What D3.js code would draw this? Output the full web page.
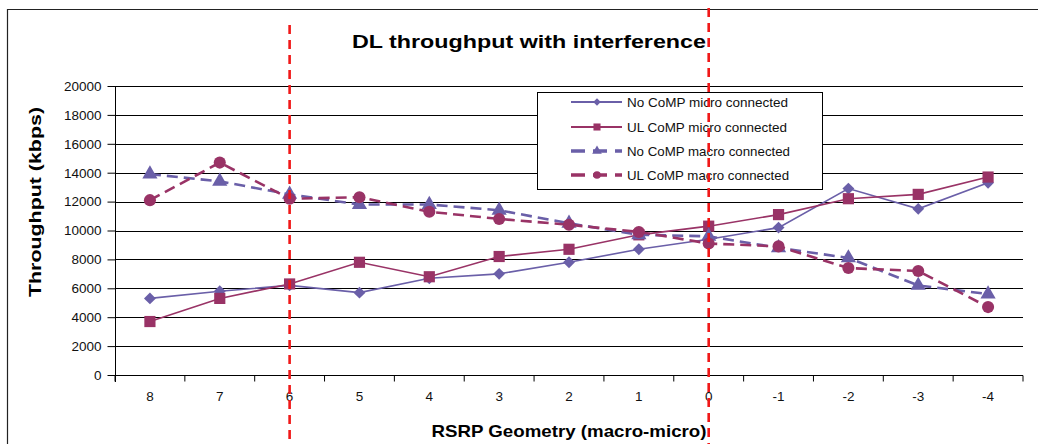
<!DOCTYPE html>
<html><head><meta charset="utf-8">
<script src="https://cdn.jsdelivr.net/npm/d3@7"></script>
<style>body{margin:0;background:#fff;}svg{display:block;font-family:"Liberation Sans",Arial,sans-serif;}</style>
</head><body><svg id="c" width="1038" height="444"></svg>
<script>
const categories = ["8","7","6","5","4","3","2","1","0","-1","-2","-3","-4"];
const yTicks = [0,2000,4000,6000,8000,10000,12000,14000,16000,18000,20000];
const seriesNames = ["No CoMP micro connected","UL CoMP micro connected","No CoMP macro connected","UL CoMP macro connected"];
const noCompMicro = [5300,5800,6200,5700,6700,7000,7800,8700,9400,10200,12900,11500,13300];
const ulCompMicro = [3700,5300,6300,7800,6800,8200,8700,9700,10300,11100,12200,12500,13700];
const noCompMacro = [13900,13400,12500,11800,11800,11400,10500,9700,9600,8800,8100,6200,5600];
const ulCompMacro = [12100,14700,12200,12300,11300,10800,10400,9900,9100,8900,7400,7200,4700];
const markerCategories = ["6","0"];

const purple = "#6a5fa8", plum = "#993366";
const styles = [
  {color:purple, dash:null, width:1.6, shape:d3.symbolDiamond2, size:90},
  {color:plum, dash:null, width:1.6, shape:d3.symbolSquare, size:125},
  {color:purple, dash:"11,6", width:2.6, shape:d3.symbolTriangle, size:100},
  {color:plum, dash:"11,6", width:2.6, shape:d3.symbolCircle, size:115}
];
const allSeries = [noCompMicro, ulCompMicro, noCompMacro, ulCompMacro];

const svg = d3.select("#c");
const x = d3.scaleBand().domain(categories).range([115,1023]);
const y = d3.scaleLinear().domain([0,20000]).range([375,86]);

// outer frame
svg.append("path").attr("d","M7.5,460 V9.5 H1060").attr("fill","none").attr("stroke","#222").attr("stroke-width",1.2);

// title
svg.append("text").attr("x",529).attr("y",48).attr("text-anchor","middle")
  .attr("font-size",19).attr("font-weight","bold").attr("textLength",354).attr("lengthAdjust","spacingAndGlyphs")
  .text("DL throughput with interference");

// gridlines
svg.append("g").selectAll("line").data(yTicks.filter(d=>d>0)).join("line")
  .attr("x1",115).attr("x2",1023).attr("y1",d=>Math.round(y(d))+0.5).attr("y2",d=>Math.round(y(d))+0.5)
  .attr("stroke","#000").attr("stroke-width",1);

// y axis
const ya = svg.append("g").attr("transform","translate(115.5,0)")
  .call(d3.axisLeft(y).tickValues(yTicks).tickSize(8).tickPadding(6).tickFormat(d3.format("d")));
ya.select(".domain").attr("d","M0,86V382").attr("stroke","#000");
ya.selectAll(".tick line").attr("stroke","#000");
ya.selectAll("text").attr("font-size",13.5).attr("font-family","Liberation Sans, Arial, sans-serif").attr("fill","#111");

// x axis
const xa = svg.append("g").attr("transform","translate(0,375.5)")
  .call(d3.axisBottom(x).tickSize(0).tickPadding(16));
xa.select(".domain").attr("d","M108,0H1023").attr("stroke","#000").attr("stroke-width",1.2);
xa.selectAll("text").attr("font-size",13.5).attr("font-family","Liberation Sans, Arial, sans-serif").attr("fill","#111");
const bounds = categories.map(c=>x(c)).concat([x.range()[1]]);
xa.append("g").selectAll("line").data(bounds).join("line")
  .attr("x1",d=>d).attr("x2",d=>d).attr("y1",0).attr("y2",6).attr("stroke","#000");

// axis titles
svg.append("text").attr("transform","translate(41,202) rotate(-90)").attr("text-anchor","middle")
  .attr("font-size",16).attr("font-weight","bold").attr("textLength",190).attr("lengthAdjust","spacingAndGlyphs")
  .text("Throughput (kbps)");
svg.append("text").attr("x",569).attr("y",437).attr("text-anchor","middle")
  .attr("font-size",17).attr("font-weight","bold").attr("textLength",275).attr("lengthAdjust","spacingAndGlyphs")
  .text("RSRP Geometry (macro-micro)");

// series
const cx = c => x(c) + x.bandwidth()/2;
allSeries.forEach((vals,i)=>{
  const st = styles[i];
  const pts = categories.map((c,j)=>[cx(c), y(vals[j])]);
  svg.append("path").attr("d", d3.line()(pts)).attr("fill","none").attr("stroke",st.color)
    .attr("stroke-width",st.width).attr("stroke-dasharray",st.dash);
  svg.append("g").selectAll("path").data(pts).join("path")
    .attr("transform",d=>`translate(${d[0]},${d[1]})`)
    .attr("d",d3.symbol().type(st.shape).size(st.size)).attr("fill",st.color);
});

// legend
const lg = svg.append("g");
lg.append("rect").attr("x",537.5).attr("y",92.5).attr("width",285).attr("height",97).attr("fill","#fff").attr("stroke","#000");
const rowsY = [102,127,151,175];
const tl = [161,160,163,162];
seriesNames.forEach((n,i)=>{
  const st = styles[i];
  lg.append("line").attr("x1",571).attr("x2",622).attr("y1",rowsY[i]).attr("y2",rowsY[i])
    .attr("stroke",st.color).attr("stroke-width",st.width+ (st.dash?0.8:0.3)).attr("stroke-dasharray",st.dash?"14,8":null);
  lg.append("path").attr("transform",`translate(597,${rowsY[i]})`)
    .attr("d",d3.symbol().type(st.shape).size(st.size*0.4)).attr("fill",st.color);
  lg.append("text").attr("x",627).attr("y",rowsY[i]+4.5).attr("font-size",13)
    .attr("textLength",tl[i]).attr("lengthAdjust","spacingAndGlyphs").attr("fill","#111").text(n);
});

// red marker lines
svg.append("g").selectAll("line").data(markerCategories).join("line")
  .attr("x1",d=>cx(d)).attr("x2",d=>cx(d))
  .attr("y1",(d,i)=>i===0?25:8).attr("y2",444)
  .attr("stroke","#f01818").attr("stroke-width",2.6).attr("stroke-dasharray","9,6");
</script></body></html>
